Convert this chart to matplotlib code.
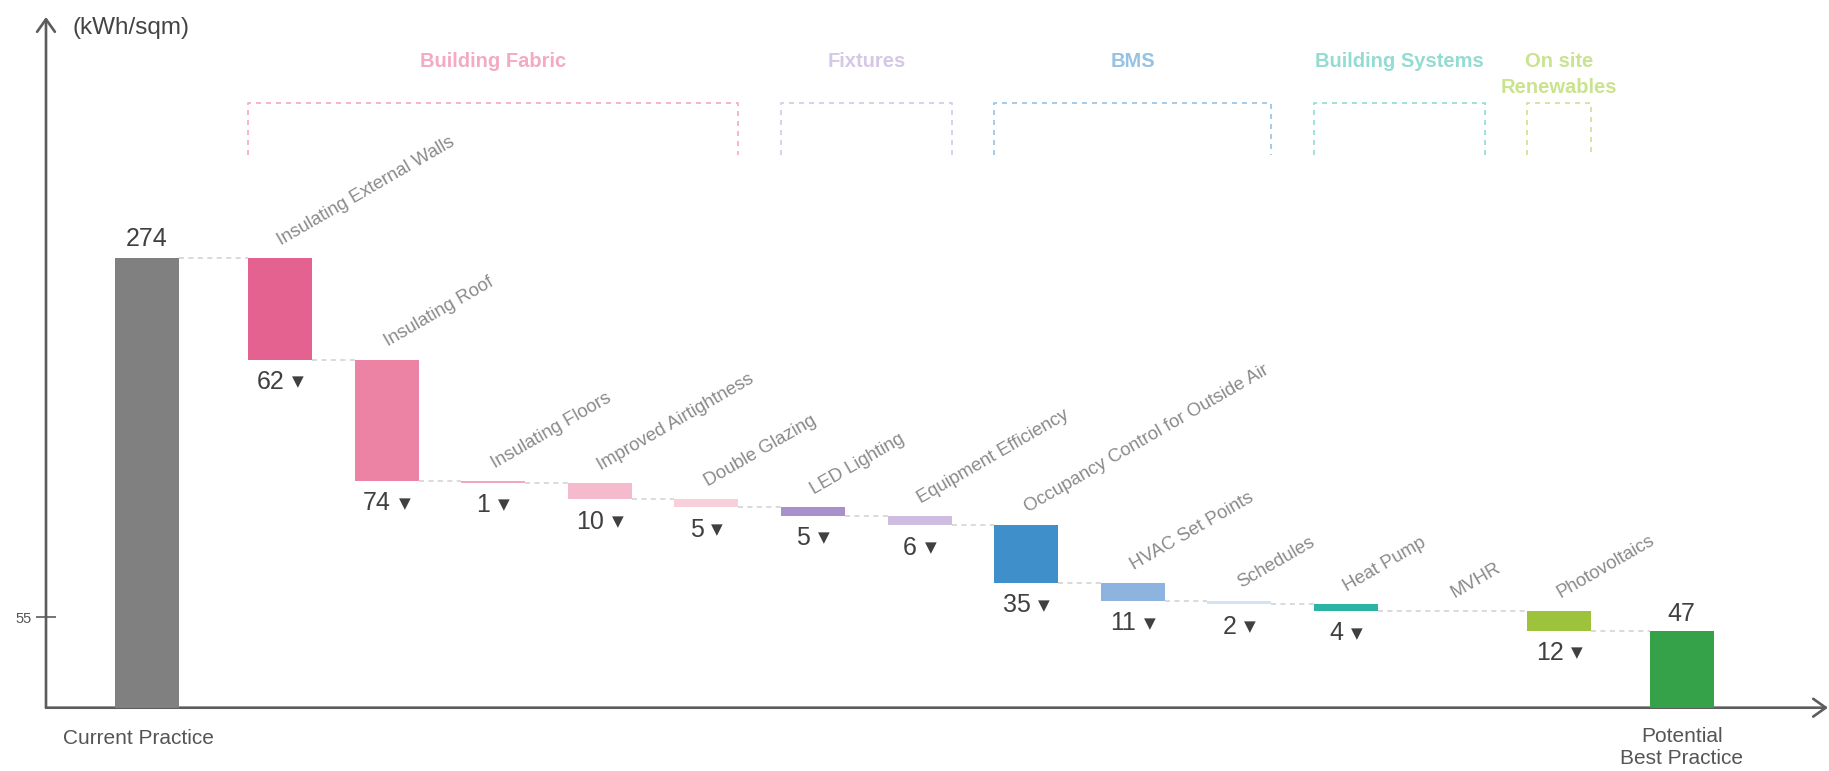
import matplotlib
matplotlib.use("Agg")
import matplotlib.pyplot as plt
from matplotlib.transforms import blended_transform_factory
from matplotlib.offsetbox import TextArea, HPacker, AnnotationBbox

plt.rcParams['font.family'] = ['Liberation Sans', 'DejaVu Sans']
plt.rcParams['lines.scale_dashes'] = False

# ---- data -------------------------------------------------------------
start_label = "Current Practice"
start_value = 274
end_label = "Potential\nBest Practice"

measures = ["Insulating External Walls", "Insulating Roof", "Insulating Floors",
            "Improved Airtightness", "Double Glazing", "LED Lighting",
            "Equipment Efficiency", "Occupancy Control for Outside Air",
            "HVAC Set Points", "Schedules", "Heat Pump", "MVHR", "Photovoltaics"]
savings = [62, 74, 1, 10, 5, 5, 6, 35, 11, 2, 4, 0, 12]
measure_colors = ["#e4628f", "#ec83a5", "#f2a7c0", "#f5bbcd", "#f8d0dc",
                  "#a98fcb", "#cdbde0", "#3f8fca", "#8db3df", "#d3e3f3",
                  "#2bb4a4", "#2bb4a4", "#9cc33b"]

groups = ["Building Fabric", "Fixtures", "BMS", "Building Systems", "On site\nRenewables"]
group_first = [1, 6, 8, 11, 13]
group_last = [5, 7, 10, 12, 13]
group_colors = ["#f4a9c4", "#d5c8e6", "#96c2e3", "#94dbd2", "#c9e38f"]

y_ticks = [55]

# ---- figure -----------------------------------------------------------
W, H = 1829, 771
fig = plt.figure(figsize=(W / 100, H / 100), dpi=100)
ax_left, ax_right, ax_bottom, ax_top = 46, 1828, 707.7, 17
ax = fig.add_axes([ax_left / W, (H - ax_bottom) / H,
                   (ax_right - ax_left) / W, (ax_bottom - ax_top) / H])

step_px = 106.6
first_center = 280
xmin = 1 + (ax_left - first_center) / step_px
xmax = 1 + (ax_right - first_center) / step_px
px_per_unit = (ax_bottom - 257.7) / start_value
ax.set_xlim(xmin, xmax)
ax.set_ylim(0, (ax_bottom - ax_top) / px_per_unit)

for s in ax.spines.values():
    s.set_visible(False)

axis_col = "#5c5c5c"
arrow = dict(arrowstyle="->,head_length=0.45,head_width=0.32", lw=1.9,
             color=axis_col, mutation_scale=20, shrinkA=0, shrinkB=0)
ax.annotate("", xy=(0, 1), xytext=(0, 0), xycoords="axes fraction",
            arrowprops=arrow, annotation_clip=False)
ax.annotate("", xy=(1, 0), xytext=(0, 0), xycoords="axes fraction",
            arrowprops=arrow, annotation_clip=False)

ax.set_xticks([])
ax.set_yticks(y_ticks)
ax.tick_params(axis="y", direction="inout", length=14, width=1.2,
               color=axis_col, labelsize=10.5, labelcolor="#555555", pad=3)

fig.text(72 / W, 1 - 28 / H, "(kWh/sqm)", fontsize=17.5, color="#444444",
         ha="left", va="center")

bar_w = 0.6
start_pos = -0.25
end_pos = 14.15
value_col = "#404040"
label_col = "#8a8a8a"
value_size = 18

# starting total
ax.bar(start_pos, start_value, width=bar_w, color="#808080", zorder=3)
ax.annotate(str(start_value), (start_pos, start_value), xytext=(0, 5),
            textcoords="offset points", ha="center", va="bottom",
            fontsize=value_size, color=value_col)

# step bars
running = start_value
drawn = [(start_pos, start_value)]   # (position, level at right edge)
for i, (name, v, c) in enumerate(zip(measures, savings, measure_colors)):
    pos = i + 1
    top = running
    running -= v
    if v > 0:
        ax.bar(pos, v, bottom=running, width=bar_w, color=c, zorder=3)
        ta1 = TextArea(str(v), textprops=dict(fontsize=value_size, color=value_col))
        ta2 = TextArea("\u25BC", textprops=dict(fontsize=11, color=value_col,
                                                family=["DejaVu Sans"]))
        box = HPacker(children=[ta1, ta2], align="center", pad=0, sep=5.5)
        ab = AnnotationBbox(box, (pos, running), xybox=(0, -7.5),
                            xycoords="data", boxcoords="offset points",
                            box_alignment=(0.5, 1), frameon=False)
        ax.add_artist(ab)
        # connector from previous drawn bar
        ppos, plevel = drawn[-1]
        ax.plot([ppos + bar_w / 2, pos - bar_w / 2], [plevel, plevel],
                color="#cfcfcf", lw=1.1, dashes=(3.6, 3.2), zorder=2)
        drawn.append((pos, running))
    ax.annotate(name, (pos, top), xytext=(2.5, 6.5), textcoords="offset points",
                rotation=30, rotation_mode="anchor", ha="left", va="bottom",
                fontsize=13.3, color=label_col)

# final total
ppos, plevel = drawn[-1]
ax.plot([ppos + bar_w / 2, end_pos - bar_w / 2], [plevel, plevel],
        color="#cfcfcf", lw=1.1, dashes=(3.6, 3.2), zorder=2)
ax.bar(end_pos, running, width=bar_w, color="#35a24a", zorder=3)
ax.annotate(str(running), (end_pos, running), xytext=(0, 3.5),
            textcoords="offset points", ha="center", va="bottom",
            fontsize=value_size, color=value_col)

# category labels under the axis
trf = blended_transform_factory(ax.transData, fig.transFigure)
ax.text(start_pos - 0.075, 1 - 738 / H, start_label, transform=trf,
        ha="center", va="center", fontsize=15, color="#555555")
ax.text(end_pos, 1 - 727 / H, end_label, transform=trf, ha="center",
        va="top", fontsize=15, color="#555555", linespacing=1.2)

# group brackets and titles
for g, a, b, c in zip(groups, group_first, group_last, group_colors):
    x0, x1 = a - bar_w / 2, b + bar_w / 2
    y_top, y_bot = 1 - 103 / H, 1 - 155 / H
    ax.plot([x0, x0, x1, x1], [y_bot, y_top, y_top, y_bot], transform=trf,
            color=c, lw=1.2, dashes=(3.6, 3.6), clip_on=False)
    ax.text((x0 + x1) / 2, 1 - 52 / H, g, transform=trf, ha="center",
            va="top", fontsize=14.5, fontweight="bold", color=c,
            linespacing=1.45)

fig.savefig("out.png", dpi=100, facecolor="white")
